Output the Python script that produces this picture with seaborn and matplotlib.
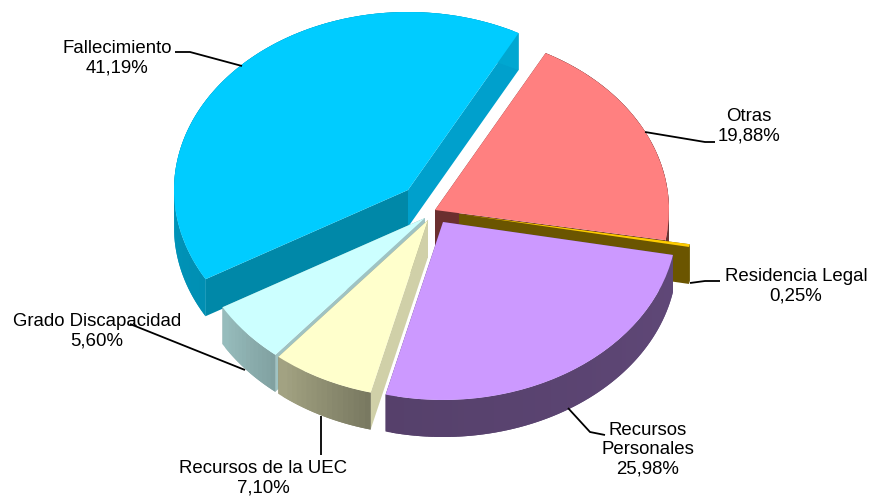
import numpy as np
import matplotlib
matplotlib.use("Agg")
import matplotlib.pyplot as plt
import seaborn as sns

# --- data ---
categories = ["Fallecimiento", "Grado Discapacidad", "Recursos de la UEC",
              "Recursos Personales", "Residencia Legal", "Otras"]
values = [41.19, 5.60, 7.10, 25.98, 0.25, 19.88]
labels = ["Fallecimiento\n41,19%", "Grado Discapacidad\n5,60%", "Recursos de la UEC\n7,10%",
          "Recursos\nPersonales\n25,98%", "Residencia Legal\n0,25%", "Otras\n19,88%"]

# --- style ---
top_colors = ["#00CCFF", "#CCFFFF", "#FFFFCC", "#CC99FF", "#FFCC00", "#FF8080"]
cut_start = ["#0088A8", "#9FC3C3", "#D0D0A8", "#55406A", "#6B5500", "#6B2F2F"]
cut_end = ["#00A0CC", "#88AAAA", "#88886A", "#55406A", "#6B5500", "#6B2F2F"]
arc_shade = [(0.82, 0.70), (0.74, 0.62), (0.64, 0.46), (0.42, 0.47), (0.42, 0.42), (0.40, 0.40)]
tips_px = [(408, 190), (425, 218), (428, 220), (443, 222), (459, 214), (435, 210)]
draw_order = [0, 5, 4, 1, 2, 3]
RX, RY, DEPTH = 234.0, 178.0, 37.0
W, H = 869, 497
X0, Y0 = 430.0, 210.0


def px(x, y):
    return (x - X0) / RX, (Y0 - y) / RY


sns.set_theme(style="white")
plt.rcParams["font.family"] = ["Liberation Sans", "DejaVu Sans"]
palette = sns.color_palette(top_colors)

fig = plt.figure(figsize=(W / 100, H / 100), dpi=100)
ax = fig.add_axes([0, 0, 1, 1])
wedges, _ = ax.pie(values, colors=palette, startangle=61.8, radius=1.0,
                   wedgeprops=dict(linewidth=0))
ax.set_aspect("auto")
ax.set_xlim(px(0, 0)[0], px(W, 0)[0])
ax.set_ylim(px(0, H)[1], px(0, 0)[1])
ax.axis("off")

depth = DEPTH / RY


def shade(c, f):
    return tuple(np.clip(np.array(matplotlib.colors.to_rgb(c)) * f, 0, 1))


z = 1
for i in draw_order:
    w = wedges[i]
    cx, cy = px(*tips_px[i])
    w.set_center((cx, cy))
    t1, t2 = np.radians(w.theta1), np.radians(w.theta2)
    # cut faces
    for t, col in ((t1, cut_end[i]), (t2, cut_start[i])):
        xs = np.array([cx, cx + np.cos(t), cx + np.cos(t), cx])
        ys = np.array([cy, cy + np.sin(t), cy + np.sin(t) - depth, cy - depth])
        ax.fill(xs, ys, color=col, lw=0, zorder=z)
        z += 1
    # outer wall, shaded along the arc; each strip overlaps the next to hide seams
    n = max(2, int((w.theta2 - w.theta1) / 1.5) + 1)
    ts = np.linspace(t1, t2, n + 1)
    for k in range(n - 1, -1, -1):
        arc = np.linspace(ts[k], ts[min(k + 2, n)], 6)
        f = arc_shade[i][0] + (arc_shade[i][1] - arc_shade[i][0]) * (k + 0.5) / n
        xs = cx + np.concatenate([np.cos(arc), np.cos(arc[::-1])])
        ys = cy + np.concatenate([np.sin(arc), np.sin(arc[::-1]) - depth])
        ax.fill(xs, ys, color=shade(top_colors[i], f), lw=0, zorder=z)
    z += 1
    w.set_zorder(z)
    z += 1

# leader lines
leaders = [
    [(175, 52), (190, 52), (242, 66)],
    [(645, 132), (705, 142), (715, 142)],
    [(690, 283), (705, 281), (720, 281)],
    [(130, 324), (245, 370)],
    [(321, 416), (321, 455)],
    [(568, 408), (590, 432), (605, 435)],
]
for pts in leaders:
    q = np.array([px(*p) for p in pts])
    ax.plot(q[:, 0], q[:, 1], color="black", lw=1.3, zorder=z, solid_capstyle="butt")

label_pos = [(117, 58), (97, 331), (263, 478), (648, 450), (796, 286), (749, 126)]
for (lx, ly), txt in zip(label_pos, labels):
    x, y = px(lx, ly)
    ax.text(x, y, txt, ha="center", va="center", fontsize=13.4, color="black",
            linespacing=1.17, zorder=z + 1)

fig.savefig("out.png", dpi=100, facecolor="white")
